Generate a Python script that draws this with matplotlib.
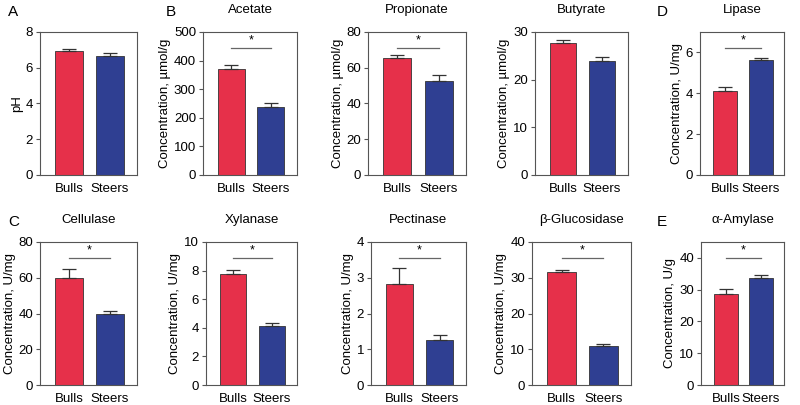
import matplotlib
matplotlib.use("Agg")
import matplotlib.pyplot as plt

plt.rcParams['font.family'] = ['Liberation Sans', 'DejaVu Sans']

groups = ["Bulls", "Steers"]
red = "#E6304A"
blue = "#2F3F92"

titles = ["", "Acetate", "Propionate", "Butyrate", "Lipase",
          "Cellulase", "Xylanase", "Pectinase", "\u03b2-Glucosidase", "\u03b1-Amylase"]
ylabels = ["pH", "Concentration, \u00b5mol/g", "Concentration, \u00b5mol/g",
           "Concentration, \u00b5mol/g", "Concentration, U/mg",
           "Concentration, U/mg", "Concentration, U/mg", "Concentration, U/mg",
           "Concentration, U/mg", "Concentration, U/g"]
ymax = [8, 500, 80, 30, 7, 80, 10, 4, 40, 45]
ystep = [2, 100, 20, 10, 2, 20, 2, 1, 10, 10]
means = [[6.95, 6.68], [372, 238], [65.5, 52.5], [27.6, 24.0], [4.1, 5.65],
         [60.0, 39.5], [7.75, 4.1], [2.82, 1.25], [31.7, 11.0], [28.7, 33.8]]
errs = [[0.1, 0.15], [13, 15], [1.6, 3.5], [0.8, 0.7], [0.22, 0.1],
        [5.0, 1.8], [0.3, 0.25], [0.46, 0.14], [0.6, 0.4], [1.4, 0.7]]
signif = [False, True, True, False, True, True, True, True, True, True]

# axes boxes in pixels: left, right (row tops/bottoms below)
boxes = [(40, 137), (203, 297), (368, 466), (535, 628), (700, 784),
         (40, 137), (206, 297), (371, 466), (532, 631), (701, 784)]
rows = [(32, 175), (242, 385)]

W, H = 800, 405
fig = plt.figure(figsize=(8, 4.05), dpi=100)

for i in range(10):
    l, r = boxes[i]
    t, b = rows[i // 5]
    ax = fig.add_axes([l / W, 1 - b / H, (r - l) / W, (b - t) / H])
    ax.bar([0, 1], means[i], width=0.68, color=[red, blue],
           edgecolor="#333333", linewidth=0.6, zorder=2)
    ax.errorbar([0, 1], means[i], yerr=[[0, 0], errs[i]], fmt="none",
                ecolor="#333333", elinewidth=0.9, capsize=5, capthick=0.9, zorder=3)
    ax.set_xlim(-0.71, 1.66)
    ax.set_ylim(0, ymax[i])
    ax.set_yticks(range(0, int(ymax[i]) + 1, ystep[i]))
    ax.set_xticks([0, 1])
    ax.set_xticklabels(groups)
    ax.tick_params(axis="both", labelsize=9.5, length=3, width=0.8,
                   color="#555555", pad=2)
    ax.tick_params(axis="x", length=0, pad=6)
    for s in ax.spines.values():
        s.set_linewidth(0.8)
        s.set_color("#555555")
    ax.set_ylabel(ylabels[i], fontsize=9.5, labelpad=2)
    if titles[i]:
        ax.set_title(titles[i], fontsize=9.5, pad=14)
    if signif[i]:
        y = ymax[i] * 0.885
        ax.plot([0, 1], [y, y], color="#666666", linewidth=0.9)
        ax.text(0.5, y + ymax[i] * 0.015, "*", ha="center", va="bottom", fontsize=9)

for lab, x, y in [("A", 8, 12), ("B", 166, 12), ("C", 8, 222),
                  ("D", 657, 12), ("E", 657, 222)]:
    fig.text(x / W, 1 - y / H, lab, fontsize=11, ha="left", va="center")

fig.savefig("out.png", dpi=100)
